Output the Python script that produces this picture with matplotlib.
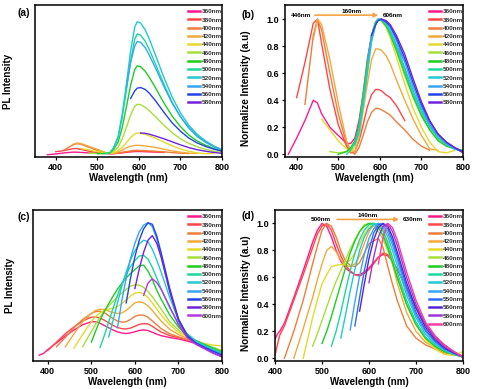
import matplotlib.pyplot as plt
import numpy as np

plt.rcParams["font.family"] = ["Liberation Sans", "DejaVu Sans"]
plt.rcParams["font.weight"] = "bold"
plt.rcParams["axes.labelweight"] = "bold"

# ---- panel (a): PL spectra, 12 excitation wavelengths (axis-height %)
A_WL = [380, 400, 420, 440, 450, 460, 480, 500, 520, 530, 540, 550, 560, 570, 580,
        590, 596, 604, 615, 625, 640, 660, 680, 700, 720, 740, 760, 780, 800]
A_EXC = ["360nm", "380nm", "400nm", "420nm", "440nm", "460nm",
         "480nm", "500nm", "520nm", "540nm", "560nm", "580nm"]
A_PL = [
    [1.5, 2.0, 2.7, 3.2, 3.2, 3.0, 2.7, 2.5, 2.3, 2.2, 2.3, 2.5, 2.8, 3.1, 3.4, 3.6,
     3.6, 3.6, 3.5, 3.4, 3.3, 3.0] + [None] * 7,
    [None, 3.5, 4.2, 5.4, 5.6, 5.0, 3.8, 2.9, 2.4, 2.2, 2.2, 2.5, 2.9, 3.3, 3.6, 3.8,
     3.8, 3.8, 3.7, 3.6, 3.4, 3.1] + [None] * 7,
    [None] * 2 + [4.6, 7.8, 8.8, 8.4, 6.4, 4.3, 2.8, 2.4, 2.3, 2.6, 3.1, 3.6, 4.0, 4.4,
                  4.4, 4.3, 4.2, 4.0, 3.8, 3.4, 2.9, 2.5, 2.3] + [None] * 4,
    [None] * 3 + [8.2, 9.2, 8.9, 7.0, 5.0, 3.0, 2.4, 2.5, 3.3, 4.6, 6.0, 7.1, 7.6, 7.7,
                  7.6, 7.3, 6.9, 6.3, 5.1, 4.0, 3.2, 2.5, 2.3] + [None] * 3,
    [None] * 5 + [5.6, 4.6, 3.6, 2.7, 2.4, 2.9, 4.3, 6.5, 9.5, 12.8, 15.2, 15.8, 15.6,
                  14.9, 13.9, 12.4, 9.8, 7.4, 5.3, 3.8, 2.7, 2.2, 2.4, None],
    [None] * 6 + [2.5, 2.3, 2.4, 2.6, 4.0, 6.4, 12.0, 19.5, 27.5, 33.4, 34.7, 34.4, 32.8,
                  30.5, 26.5, 21.0, 16.0, 12.0, 9.0, 6.8, 5.0, 3.8, 3.0],
    [None] * 7 + [2.2, 2.3, 2.6, 5.3, 9.8, 19.5, 33.0, 47.0, 57.5, 60.0, 59.4, 56.5,
                  52.5, 45.5, 35.7, 27.0, 20.0, 14.5, 10.6, 7.8, 5.6, 4.0],
    [None] * 8 + [2.3, 2.8, 6.5, 12.5, 26.0, 44.0, 63.0, 77.5, 81.0, 80.2, 76.3, 70.7,
                  61.0, 48.0, 36.0, 26.5, 19.0, 13.5, 9.7, 6.8, 4.5],
    [None] * 10 + [6.8, 13.5, 28.5, 48.0, 69.5, 85.5, 89.0, 88.2, 83.8, 77.7, 67.0,
                   52.5, 39.5, 29.0, 21.0, 15.0, 10.7, 7.3, 4.8],
    [None] * 13 + [46.0, 62.0, 73.0, 76.0, 75.5, 72.0, 67.0, 58.5, 46.5, 35.5, 26.5,
                   19.5, 14.0, 10.0, 7.0, 4.6],
    [None] * 14 + [38.5, 43.5, 45.3, 45.7, 44.5, 42.0, 37.0, 29.5, 22.5, 17.0, 12.5,
                   9.3, 7.0, 5.2, 3.8],
    [None] * 17 + [15.8, 15.6, 15.0, 13.8, 12.0, 10.0, 8.0, 6.2, 4.8, 3.8, 3.0, 2.4],
]

# ---- panel (b): normalized spectra, same grid as (a)
B_NORM = [
    [0.0, 0.12, 0.25, 0.40, 0.38, 0.30, 0.20, 0.14, 0.08, 0.08, 0.12, 0.25, 0.45, 0.70,
     0.88, 0.98, 1.0, 0.99, 0.95, 0.90, 0.80, 0.69] + [None] * 7,
    [None, 0.42, 0.68, 0.97, 1.0, 0.82, 0.48, 0.22, 0.06, 0.01, 0.02, 0.10, 0.22, 0.35,
     0.44, 0.48, 0.48, 0.47, 0.44, 0.42, 0.36, 0.25] + [None] * 7,
    [None] * 2 + [0.37, 0.88, 1.0, 0.92, 0.60, 0.30, 0.08, 0.02, 0.0, 0.05, 0.14, 0.24,
                  0.31, 0.34, 0.34, 0.33, 0.31, 0.29, 0.24, 0.18, 0.11, 0.06, 0.03] + [None] * 4,
    [None] * 3 + [0.85, 1.0, 0.96, 0.70, 0.38, 0.10, 0.03, 0.02, 0.12, 0.32, 0.52, 0.70,
                  0.78, 0.78, 0.77, 0.73, 0.67, 0.55, 0.40, 0.26, 0.14, 0.04, 0.03] + [None] * 3,
    [None] * 5 + [0.26, 0.18, 0.10, 0.04, 0.02, 0.05, 0.15, 0.35, 0.60, 0.84, 0.97, 1.0,
                  0.99, 0.94, 0.86, 0.72, 0.52, 0.34, 0.20, 0.09, 0.02, 0.01, 0.03, None],
    [None] * 6 + [0.02, 0.01, 0.02, 0.03, 0.08, 0.20, 0.42, 0.65, 0.86, 0.98, 1.0, 0.99,
                  0.95, 0.88, 0.76, 0.58, 0.42, 0.28, 0.18, 0.11, 0.07, 0.04, 0.03],
    [None] * 7 + [0.0, 0.02, 0.05, 0.10, 0.22, 0.45, 0.68, 0.88, 0.98, 1.0, 0.99, 0.95,
                  0.89, 0.77, 0.60, 0.43, 0.29, 0.18, 0.10, 0.06, 0.04, 0.03],
    [None] * 8 + [0.0, 0.03, 0.08, 0.19, 0.40, 0.64, 0.86, 0.97, 1.0, 1.0, 0.96, 0.90,
                  0.79, 0.62, 0.45, 0.31, 0.20, 0.12, 0.07, 0.04, 0.02],
    [None] * 10 + [0.07, 0.16, 0.36, 0.60, 0.83, 0.96, 1.0, 1.0, 0.97, 0.92, 0.81, 0.64,
                   0.47, 0.33, 0.21, 0.13, 0.08, 0.04, 0.02],
    [None] * 13 + [0.70, 0.86, 0.96, 0.99, 1.0, 0.98, 0.94, 0.84, 0.68, 0.50, 0.35, 0.22,
                   0.14, 0.08, 0.04, 0.02],
    [None] * 14 + [0.88, 0.96, 0.99, 1.0, 0.98, 0.95, 0.86, 0.71, 0.53, 0.37, 0.24, 0.15,
                   0.09, 0.05, 0.02],
    [None] * 17 + [1.0, 0.99, 0.96, 0.88, 0.74, 0.56, 0.39, 0.25, 0.15, 0.09, 0.05, 0.01],
]

# ---- panel (c): PL spectra, 13 excitation wavelengths
C_WL = [380, 390, 400, 420, 440, 460, 480, 500, 510, 520, 530, 540, 550, 560, 570, 580,
        590, 600, 610, 620, 630, 640, 650, 660, 680, 700, 720, 740, 760, 780, 800]
C_EXC = A_EXC + ["600nm"]
C_PL = [
    [3.8, 5.0, 7.5, 12.0, 16.5, 20.5, 24.0, 26.0, 26.0, 25.0, 23.5, 22.0, 20.5, 19.3,
     18.5, 18.2, 18.6, 19.4, 20.2, 20.6, 20.2, 19.0, 17.8, 16.8, 15.5, 14.6, 13.2, 11.5,
     9.5, 7.0, 4.0],
    [None] * 2 + [7.0, 12.5, 18.0, 22.5, 26.5, 29.0, 29.2, 28.5, 27.0, 25.2, 23.5, 22.2,
                  21.4, 21.2, 21.8, 23.0, 24.2, 24.8, 24.5, 23.0, 21.0, 19.2, 16.8, 15.5,
                  14.0, 12.2, 10.0, 7.5, 4.5],
    [None] * 3 + [9.5, 15.5, 22.0, 27.5, 31.5, 32.8, 33.0, 32.0, 30.0, 28.0, 26.5, 25.7,
                  26.0, 27.5, 29.5, 30.5, 30.3, 29.0, 26.5, 24.0, 21.5, 18.0, 16.0, 14.2,
                  12.5, 10.5, 8.0, 5.0],
    [None] * 4 + [9.3, 18.0, 26.0, 31.5, 33.5, 34.3, 34.0, 33.0, 32.0, 31.5, 31.8, 33.5,
                  36.0, 38.5, 39.2, 38.5, 36.5, 33.5, 30.0, 26.5, 21.0, 17.5, 15.0, 13.0,
                  11.0, 8.5, 6.0],
    [None] * 5 + [8.5, 17.5, 26.0, 29.5, 32.0, 33.5, 34.3, 35.0, 36.0, 38.0, 40.5, 43.0,
                  45.0, 45.5, 44.5, 42.0, 38.5, 34.5, 30.5, 24.0, 19.0, 16.0, 13.5, 11.5,
                  10.5, 10.0],
    [None] * 6 + [9.5, 19.5, 24.5, 29.0, 33.0, 36.5, 39.5, 42.5, 45.0, 47.5, 49.5, 50.5,
                  50.2, 48.8, 46.0, 42.5, 38.5, 34.5, 26.0, 20.5, 16.5, 13.5, 11.0, 9.0, 7.0],
    [None] * 7 + [12.5, 20.0, 27.0, 33.0, 38.0, 43.0, 47.5, 51.5, 55.0, 58.0, 60.5, 63.0,
                  63.5, 59.5, 54.0, 47.0, 41.0, 30.5, 22.5, 17.0, 13.5, 11.0, 8.5, 6.0],
    [None] * 9 + [9.0, 17.0, 26.0, 35.0, 43.5, 51.0, 57.5, 62.5, 66.5, 69.5, 70.0, 67.5,
                  62.0, 55.0, 48.0, 35.0, 25.0, 18.0, 13.5, 10.5, 8.0, 5.5],
    [None] * 11 + [16.0, 27.0, 38.5, 49.5, 59.0, 67.0, 73.0, 77.5, 80.0, 79.0, 74.0,
                   67.0, 59.0, 42.0, 27.0, 17.5, 13.0, 10.0, 7.0, 5.0],
    [None] * 13 + [22.0, 40.0, 55.0, 68.0, 78.0, 85.5, 90.0, 91.5, 89.0, 81.0, 70.0,
                   46.0, 27.0, 16.5, 12.0, 9.0, 6.5, 4.5],
    [None] * 15 + [38.5, 55.0, 69.0, 80.0, 87.5, 91.5, 90.5, 83.0, 72.0, 48.0, 28.0,
                   17.0, 12.0, 9.0, 6.5, 4.0],
    [None] * 17 + [48.0, 61.0, 72.0, 80.0, 83.0, 78.0, 69.0, 46.0, 27.0, 16.0, 11.5, 8.5,
                   5.5, 3.0],
    [None] * 19 + [43.5, 51.5, 54.5, 52.0, 47.5, 36.0, 24.0, 15.5, 11.0, 8.0, 5.0, 2.6],
]

# ---- panel (d): normalized spectra, 14 excitation wavelengths
D_WL = [400, 405, 410, 420, 440, 460, 480, 490, 500, 510, 520, 530, 540, 550, 560, 570,
        580, 590, 600, 610, 620, 630, 640, 650, 660, 680, 700, 720, 740, 760, 780, 800]
D_EXC = ["360nm", "380nm", "400nm", "420nm", "440nm", "460nm", "480nm", "500nm",
         "520nm", "540nm", "550nm", "560nm", "580nm", "600nm"]
D_NORM = [
    [0.14, 0.18, 0.20, 0.26, 0.45, 0.65, 0.86, 0.95, 1.0, 0.98, 0.90, 0.80, 0.72, 0.67,
     0.64, 0.62, 0.62, 0.64, 0.67, 0.71, 0.75, 0.77, 0.76, 0.72, 0.66, 0.52, 0.38, 0.25,
     0.16, 0.10, 0.05, 0.01],
    [0.02, 0.10, 0.17, 0.24, 0.43, 0.62, 0.82, 0.92, 0.98, 1.0, 0.95, 0.85, 0.76, 0.69,
     0.65, 0.62, 0.61, 0.63, 0.66, 0.70, 0.75, 0.78, 0.77, 0.72, 0.66, 0.52, 0.38, 0.25,
     0.16, 0.10, 0.05, 0.01],
    [None] * 3 + [0.0, 0.20, 0.43, 0.70, 0.83, 0.95, 1.0, 0.98, 0.90, 0.80, 0.72, 0.69,
                  0.68, 0.71, 0.78, 0.85, 0.87, 0.89, 0.82, 0.68, 0.55, 0.43, 0.24, 0.15,
                  0.10, 0.07, 0.04, 0.03, 0.02],
    [None] * 4 + [0.0, 0.22, 0.45, 0.58, 0.70, 0.80, 0.83, 0.79, 0.73, 0.69, 0.68, 0.70,
                  0.76, 0.85, 0.94, 0.99, 1.0, 0.95, 0.84, 0.70, 0.56, 0.34, 0.20, 0.12,
                  0.08, 0.05, 0.03, 0.02],
    [None] * 5 + [0.0, 0.30, 0.43, 0.55, 0.62, 0.68, 0.69, 0.695, 0.70, 0.73, 0.78, 0.85,
                  0.92, 0.97, 1.0, 0.99, 0.95, 0.86, 0.74, 0.62, 0.40, 0.25, 0.14, 0.07,
                  0.03, 0.02, 0.05],
    [None] * 6 + [0.09, 0.18, 0.28, 0.38, 0.48, 0.57, 0.65, 0.73, 0.81, 0.88, 0.94, 0.99,
                  1.0, 0.98, 0.94, 0.88, 0.80, 0.70, 0.60, 0.40, 0.25, 0.15, 0.09, 0.05,
                  0.03, 0.01],
    [None] * 8 + [0.11, 0.20, 0.31, 0.43, 0.55, 0.67, 0.78, 0.87, 0.94, 0.98, 1.0, 1.0,
                  0.97, 0.91, 0.82, 0.71, 0.60, 0.40, 0.25, 0.15, 0.09, 0.05, 0.03, 0.01],
    [None] * 10 + [0.09, 0.20, 0.34, 0.50, 0.65, 0.78, 0.88, 0.95, 0.99, 1.0, 0.99, 0.94,
                   0.86, 0.75, 0.64, 0.43, 0.27, 0.16, 0.10, 0.06, 0.03, 0.01],
    [None] * 12 + [0.15, 0.32, 0.50, 0.66, 0.80, 0.90, 0.96, 0.99, 1.0, 0.97, 0.90, 0.80,
                   0.69, 0.47, 0.30, 0.18, 0.11, 0.06, 0.03, 0.01],
    [None] * 14 + [0.21, 0.42, 0.61, 0.77, 0.89, 0.96, 1.0, 0.99, 0.93, 0.84, 0.73, 0.50,
                   0.32, 0.20, 0.12, 0.07, 0.04, 0.01],
    [None] * 15 + [0.24, 0.45, 0.65, 0.81, 0.93, 0.99, 1.0, 0.96, 0.87, 0.76, 0.53, 0.34,
                   0.21, 0.13, 0.07, 0.04, 0.01],
    [None] * 16 + [0.35, 0.55, 0.74, 0.88, 0.97, 1.0, 0.98, 0.90, 0.79, 0.56, 0.37, 0.23,
                   0.14, 0.08, 0.04, 0.01],
    [None] * 18 + [0.56, 0.75, 0.90, 0.98, 1.0, 0.94, 0.84, 0.60, 0.40, 0.25, 0.15, 0.09,
                   0.05, 0.01],
    [None] * 20 + [0.70, 0.90, 1.0, 0.97, 0.88, 0.64, 0.43, 0.27, 0.17, 0.10, 0.05, 0.01],
]

COLORS = {
    "360nm": "#ff1a8c", "380nm": "#ff4646", "400nm": "#f07d3a", "420nm": "#f2a93b",
    "440nm": "#e6d92c", "460nm": "#a5df3a", "480nm": "#1fcc1f", "500nm": "#1ed6a0",
    "520nm": "#22c8d2", "540nm": "#37a6f2", "550nm": "#2f6cf0", "560nm": "#2244e6",
    "580nm": "#7322dc", "600nm": "#b23ade",
}
D_COLORS = dict(COLORS, **{"560nm": "#5424d6", "580nm": "#9a38dc", "600nm": "#ff3d9e"})

ARROW = "#f5a44a"


def draw(ax, wl, curves, labels, colors):
    for y, lab in zip(curves, labels):
        ax.plot(wl, np.array(y, dtype=float), color=colors[lab], lw=1.0, label=lab)
    leg = ax.legend(loc="upper right", bbox_to_anchor=(1.0, 0.975), frameon=False,
                    fontsize=4.6, handlelength=1.9, handletextpad=0.3,
                    labelspacing=0.44, borderpad=0, borderaxespad=0)
    for line in leg.get_lines():
        line.set_linewidth(1.8)
    for t in leg.get_texts():
        t.set_color("#333333")
    ax.set_xticks([400, 500, 600, 700, 800])
    ax.tick_params(direction="out", length=2.5, width=0.9, labelsize=6.5, pad=1.5)
    ax.set_xlabel("Wavelength (nm)", fontsize=7, labelpad=1)
    for s in ax.spines.values():
        s.set_linewidth(1.1)


def main():
    fig = plt.figure(figsize=(5.0, 3.89), dpi=100)
    ax_a = fig.add_axes([0.070, 0.5964, 0.374, 0.3907])
    ax_b = fig.add_axes([0.570, 0.5964, 0.356, 0.3907])
    ax_c = fig.add_axes([0.066, 0.0720, 0.378, 0.3882])
    ax_d = fig.add_axes([0.550, 0.0720, 0.376, 0.3882])

    draw(ax_a, A_WL, A_PL, A_EXC, COLORS)
    ax_a.set_xlim(350, 800)
    ax_a.set_ylim(0, 100)
    ax_a.set_yticks([])
    ax_a.set_ylabel("PL Intensity", fontsize=7)
    ax_a.yaxis.set_label_coords(-0.118, 0.5)

    draw(ax_b, A_WL, B_NORM, A_EXC, COLORS)
    ax_b.set_xlim(372, 800)
    ax_b.set_ylim(-0.02, 1.105)
    ax_b.set_yticks(np.arange(0, 1.01, 0.2))
    ax_b.yaxis.set_major_formatter("{x:.1f}")
    ax_b.set_ylabel("Normalize Intensity (a.u)", fontsize=7.2)
    ax_b.yaxis.set_label_coords(-0.19, 0.45)
    ax_b.annotate("", xy=(603, 1.03), xytext=(437, 1.03),
                  arrowprops=dict(arrowstyle="-|>", color=ARROW, lw=1.2, mutation_scale=6))
    ax_b.text(410, 1.03, "446nm", fontsize=4.6, ha="center", va="center")
    ax_b.text(533, 1.056, "160nm", fontsize=4.6, ha="center", va="center")
    ax_b.text(607, 1.03, "606nm", fontsize=4.6, ha="left", va="center")

    draw(ax_c, C_WL, C_PL, C_EXC, COLORS)
    ax_c.set_xlim(366, 800)
    ax_c.set_ylim(0, 100)
    ax_c.set_yticks([])
    ax_c.set_ylabel("PL Intensity", fontsize=7)
    ax_c.yaxis.set_label_coords(-0.095, 0.5)

    draw(ax_d, D_WL, D_NORM, D_EXC, D_COLORS)
    ax_d.set_xlim(400, 800)
    ax_d.set_ylim(-0.02, 1.1)
    ax_d.set_yticks(np.arange(0, 1.01, 0.2))
    ax_d.yaxis.set_major_formatter("{x:.1f}")
    ax_d.set_ylabel("Normalize Intensity (a.u)", fontsize=7.2)
    ax_d.yaxis.set_label_coords(-0.13, 0.45)
    ax_d.annotate("", xy=(670, 1.03), xytext=(526, 1.03),
                  arrowprops=dict(arrowstyle="-|>", color=ARROW, lw=1.2, mutation_scale=6))
    ax_d.text(498, 1.028, "500nm", fontsize=4.6, ha="center", va="center")
    ax_d.text(598, 1.06, "140nm", fontsize=4.6, ha="center", va="center")
    ax_d.text(673, 1.028, "630nm", fontsize=4.6, ha="left", va="center")

    fig.text(0.048, 0.966, "(a)", fontsize=7.5, ha="center", va="center")
    fig.text(0.497, 0.962, "(b)", fontsize=7.5, ha="center", va="center")
    fig.text(0.048, 0.442, "(c)", fontsize=7.5, ha="center", va="center")
    fig.text(0.497, 0.445, "(d)", fontsize=7.5, ha="center", va="center")

    fig.savefig("out.png", dpi=100)
    plt.close(fig)


if __name__ == "__main__":
    main()
